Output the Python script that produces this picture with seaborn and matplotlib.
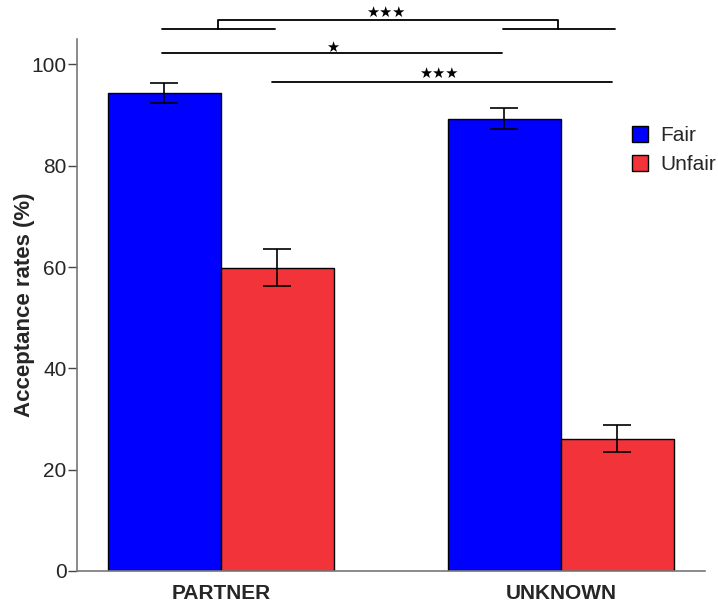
import matplotlib
matplotlib.use("Agg")
import matplotlib.pyplot as plt
import seaborn as sns
import pandas as pd

conditions = ["PARTNER", "UNKNOWN"]
offers = ["Fair", "Unfair"]
means = {"Fair": [94.3, 89.3], "Unfair": [59.9, 26.1]}
sems = {"Fair": [2.0, 2.1], "Unfair": [3.7, 2.7]}
yticks = [0, 20, 40, 60, 80, 100]
palette = {"Fair": "#0000FF", "Unfair": "#F2333A"}

rows = []
for o in offers:
    for c, m, s in zip(conditions, means[o], sems[o]):
        rows.append({"condition": c, "offer": o, "rate": m, "sem": s})
df = pd.DataFrame(rows)

sns.set_style("white")
plt.rcParams["font.family"] = ["Liberation Sans", "DejaVu Sans"]

fig = plt.figure(figsize=(7.18, 6.06), dpi=100)
ax = fig.add_axes([0.107, 0.0578, 0.875, 0.8778])

sns.barplot(data=df, x="condition", y="rate", hue="offer", order=conditions,
            hue_order=offers, palette=palette, width=0.665, errorbar=None,
            edgecolor="black", linewidth=1.0, saturation=1, ax=ax)

# error bars placed at bar centers
for o, cont in zip(offers, ax.containers):
    for bar, c in zip(cont, conditions):
        r = df[(df.offer == o) & (df.condition == c)].iloc[0]
        xc = bar.get_x() + bar.get_width() / 2
        ax.errorbar(xc, r["rate"], yerr=r["sem"], color="black", capsize=10,
                    elinewidth=1.2, capthick=1.2, fmt="none", zorder=5)

ax.set_xlim(-0.424, 1.424)
ax.set_ylim(0, 105)
ax.set_yticks(yticks)
ax.set_yticklabels([str(t) for t in yticks], fontsize=15)
ax.set_xlabel("")
ax.set_ylabel("Acceptance rates (%)", fontsize=16, fontweight="bold")
ax.yaxis.set_label_coords(-0.066, 0.5)
ax.tick_params(axis="y", left=True, length=6.5, width=1, color="#444444", pad=1)
ax.tick_params(axis="x", bottom=False, labelsize=15, pad=6)
for lab in ax.get_xticklabels():
    lab.set_fontweight("bold")
for s in ["top", "right"]:
    ax.spines[s].set_visible(False)
for s in ["left", "bottom"]:
    ax.spines[s].set_color("#777777")
    ax.spines[s].set_linewidth(1.2)

# significance brackets
lk = dict(color="black", lw=1.3, clip_on=False)
sk = dict(ha="center", va="center", fontsize=10.5, family="DejaVu Sans",
          color="black", clip_on=False)
ax.plot([-0.174, 0.159], [106.9, 106.9], **lk)
ax.plot([0.829, 1.159], [106.9, 106.9], **lk)
ax.plot([-0.009, -0.009, 0.991, 0.991], [106.9, 108.8, 108.8, 106.9], **lk)
ax.text(0.485, 110.3, "★★★", **sk)
ax.plot([-0.174, 0.826], [102.2, 102.2], **lk)
ax.text(0.329, 103.4, "★", **sk)
ax.plot([0.15, 1.15], [96.6, 96.6], **lk)
ax.text(0.641, 98.3, "★★★", **sk)

ax.legend(title=None, frameon=False, fontsize=15, loc="upper left",
          bbox_to_anchor=(632 / 718, 1 - 126 / 606), bbox_transform=fig.transFigure,
          borderaxespad=0, borderpad=0, handlelength=0.77, handleheight=0.77,
          handletextpad=0.58, labelspacing=0.5)

fig.savefig("out.png", dpi=100)
